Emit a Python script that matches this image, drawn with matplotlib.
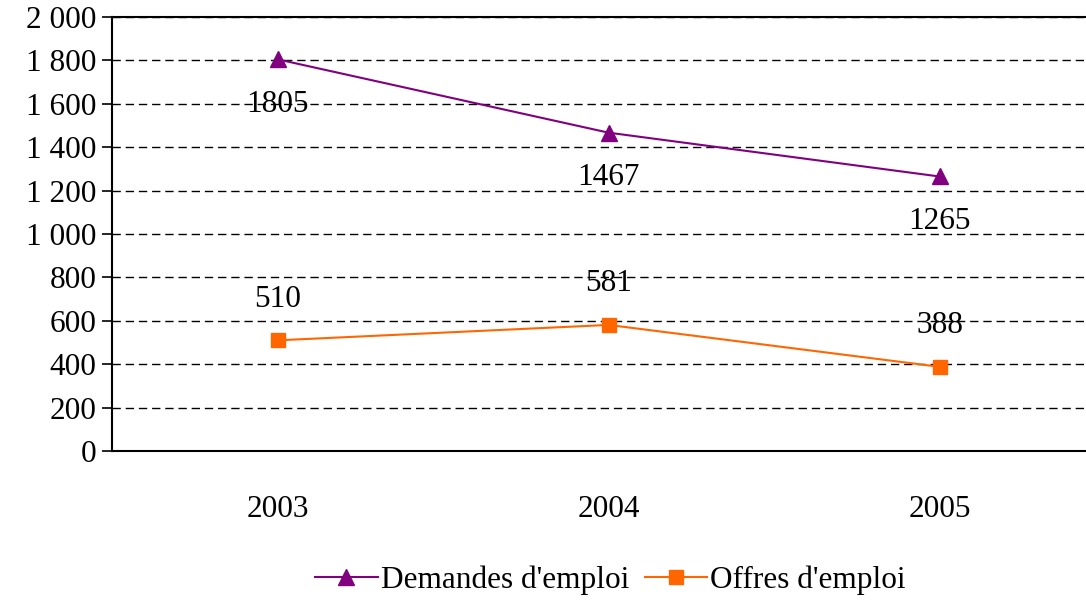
import numpy as np
import matplotlib.pyplot as plt
from matplotlib.ticker import FuncFormatter

plt.rcParams['font.family'] = ['Liberation Serif', 'DejaVu Serif']
plt.rcParams['font.size'] = 22.5

years = ['2003', '2004', '2005']
demandes = [1805, 1467, 1265]
offres = [510, 581, 388]

fig = plt.figure(figsize=(10.86, 6.0), dpi=100)
# axes extend past the right edge, as in the original
ax = fig.add_axes([112/1086, 149/600, 993/1086, 434/600])

x = np.arange(len(years))
ax.plot(x, demandes, '-^', color='#800080', lw=1.5, ms=11.5, label="Demandes d'emploi")
ax.plot(x, offres, '-s', color='#FF6600', lw=1.5, ms=10.5, label="Offres d'emploi")

for xi, v in zip(x, demandes):
    ax.annotate(str(v), (xi, v), xytext=(0, -45), textcoords='offset pixels',
                ha='center', va='center')
for xi, v in zip(x, offres):
    ax.annotate(str(v), (xi, v), xytext=(0, 41), textcoords='offset pixels',
                ha='center', va='center')

ax.set_xlim(-0.5, 2.5)
ax.set_ylim(0, 2000)
ax.set_yticks(range(0, 2001, 200))
ax.yaxis.set_major_formatter(FuncFormatter(lambda v, p: '{:,}'.format(int(v)).replace(',', ' ')))
ax.set_xticks(x)
ax.set_xticklabels(years)
ax.tick_params(axis='x', length=0, pad=32)
ax.tick_params(axis='y', length=7, width=1.2, direction='out', pad=4)
ax.yaxis.grid(True, linestyle=(0, (6, 3.5)), color='black', lw=1.0)
ax.set_axisbelow(True)
for s in ['left', 'bottom', 'top']:
    ax.spines[s].set_linewidth(1.5)
ax.spines['right'].set_visible(False)

fig.legend(loc='center', bbox_to_anchor=(0.562, 0.033), ncol=2, frameon=False,
           handlelength=2.0, handletextpad=0.1, columnspacing=0.5, borderaxespad=0)

fig.savefig('out.png', dpi=100)
